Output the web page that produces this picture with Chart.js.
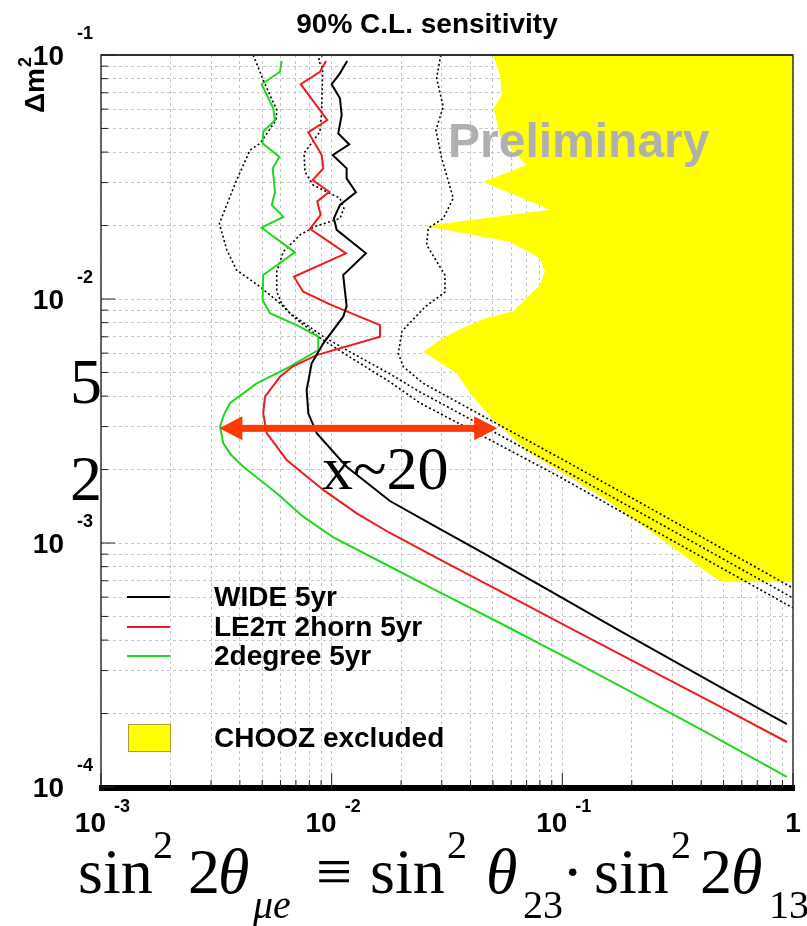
<!DOCTYPE html>
<html>
<head>
<meta charset="utf-8">
<script src="https://cdn.jsdelivr.net/npm/chart.js@4.4.0/dist/chart.umd.min.js"></script>
<style>
  html, body { margin: 0; padding: 0; background: #fff; }
  #wrap { position: relative; width: 807px; height: 926px; overflow: hidden; }
  #chart { display: block; }
  #formula span {
    position: absolute; white-space: nowrap; color: #000;
    font-family: 'Liberation Serif', 'Times New Roman', serif;
  }
  #formula .m { font-size: 64px; line-height: 64px; top: 840px; }
  #formula .sp { font-size: 40px; line-height: 40px; top: 825px; }
  #formula .sb { font-size: 40px; line-height: 40px; top: 885px; }
</style>
</head>
<body>
<div id="wrap">
  <canvas id="chart" width="807" height="926"></canvas>
  <div id="formula">
    <span class="m" style="left:78px">sin</span>
    <span class="sp" style="left:153px">2</span>
    <span class="m" style="left:188px">2</span>
    <span class="m" style="left:218px"><i>θ</i></span>
    <span class="sb" style="left:253px"><i>μe</i></span>
    <span class="m" style="left:316px">≡</span>
    <span class="m" style="left:370px">sin</span>
    <span class="sp" style="left:447px">2</span>
    <span class="m" style="left:486px"><i>θ</i></span>
    <span class="sb" style="left:523px">23</span>
    <span class="m" style="left:562px">·</span>
    <span class="m" style="left:594px">sin</span>
    <span class="sp" style="left:671px">2</span>
    <span class="m" style="left:700px">2</span>
    <span class="m" style="left:731px"><i>θ</i></span>
    <span class="sb" style="left:769px">13</span>
  </div>
</div>
<script>
// axis ranges
const xMin = 1e-3, xMax = 1;
const yMin = 1e-4, yMax = 1e-1;

// tick labels (10^exp)
const xLabelValues = [0.001, 0.01, 0.1];
const xLabelExp = ['-3', '-2', '-1'];
const yLabelValues = [0.1, 0.01, 0.001, 0.0001];
const yLabelExp = ['-1', '-2', '-3', '-4'];

// WIDE 5yr (black)
const wideX = [0.01168, 0.01086, 0.0100, 0.01086, 0.01105, 0.01068, 0.01192, 0.0101, 0.01161, 0.01161, 0.01274, 0.01086, 0.01023, 0.01051, 0.01408, 0.01122, 0.01161, 0.01122, 0.0092, 0.00819, 0.00779, 0.00792, 0.00861, 0.01161, 0.0179, 0.02749, 0.04528, 0.08837, 0.1724, 0.3332, 0.549, 0.941];
const wideY = [0.0945, 0.0841, 0.0759, 0.0665, 0.0568, 0.0477, 0.043, 0.0389, 0.0343, 0.0312, 0.0274, 0.0243, 0.0214, 0.0192, 0.01539, 0.01254, 0.00935, 0.00846, 0.00658, 0.00545, 0.00424, 0.0034, 0.00282, 0.002055, 0.001486, 0.001185, 0.00091, 0.000636, 0.000444, 0.000313, 0.0002405, 0.0001812];

// LE2pi 2horn 5yr (red)
const le2piX = [0.00945, 0.0089, 0.00734, 0.00846, 0.00957, 0.00792, 0.00905, 0.0092, 0.00827, 0.00976, 0.00866, 0.00896, 0.00805, 0.01153, 0.00686, 0.00753, 0.00983, 0.0162, 0.0162, 0.00861, 0.0068, 0.00597, 0.00514, 0.00505, 0.00523, 0.00638, 0.0092, 0.01284, 0.0179, 0.03257, 0.0613, 0.1229, 0.2397, 0.4679, 0.941];
const le2piY = [0.0945, 0.0854, 0.0759, 0.0634, 0.0541, 0.0482, 0.0389, 0.0343, 0.0307, 0.0275, 0.0251, 0.0221, 0.0194, 0.01539, 0.01234, 0.01071, 0.00951, 0.00782, 0.00701, 0.00589, 0.0053, 0.0048, 0.00398, 0.0034, 0.00282, 0.00219, 0.00165, 0.001323, 0.001099, 0.000813, 0.000595, 0.00042, 0.000302, 0.000217, 0.0001529];

// 2degree 5yr (green)
const twoDegX = [0.00607, 0.00597, 0.00497, 0.00558, 0.00568, 0.00505, 0.00502, 0.00593, 0.00555, 0.00568, 0.0055, 0.00617, 0.00497, 0.00693, 0.00505, 0.00502, 0.0054, 0.00705, 0.00875, 0.00875, 0.0066, 0.00473, 0.00362, 0.00341, 0.00328, 0.00339, 0.00366, 0.00414, 0.00578, 0.00753, 0.01013, 0.01669, 0.02749, 0.05364, 0.1047, 0.2023, 0.3949, 0.941];
const twoDegY = [0.0945, 0.0854, 0.0759, 0.0605, 0.0541, 0.0485, 0.0434, 0.0383, 0.0343, 0.0275, 0.0243, 0.0217, 0.0196, 0.01553, 0.01254, 0.00991, 0.00874, 0.00782, 0.00701, 0.00618, 0.00528, 0.00451, 0.00374, 0.00335, 0.0030, 0.00256, 0.0023, 0.002055, 0.0016, 0.001282, 0.001058, 0.000828, 0.000648, 0.00047, 0.000338, 0.000243, 0.0001729, 0.0001099];

// dotted curves
const dot1X = [0.00457, 0.00505, 0.00578, 0.00574, 0.00489, 0.00443, 0.00387, 0.00326, 0.00351, 0.00387, 0.00489, 0.00597, 0.00682, 0.0089, 0.012, 0.0179, 0.02414, 0.04698, 0.09763, 0.2397, 0.999];
const dot1Y = [0.1, 0.079, 0.0595, 0.0541, 0.0434, 0.0408, 0.0307, 0.0204, 0.01588, 0.01315, 0.01123, 0.0096, 0.00846, 0.00692, 0.00578, 0.00457, 0.00375, 0.00269, 0.001864, 0.001152, 0.000542];
const dot2X = [0.00914, 0.00875, 0.00914, 0.00905, 0.0089, 0.00759, 0.00766, 0.00832, 0.01086, 0.0113, 0.01086, 0.00846, 0.00729, 0.00617, 0.00578, 0.00578, 0.00607, 0.0066, 0.0092, 0.012, 0.0179, 0.02414, 0.04698, 0.09763, 0.2397, 0.999];
const dot2Y = [0.1, 0.0954, 0.0882, 0.0586, 0.0485, 0.0396, 0.0332, 0.0293, 0.0259, 0.0235, 0.0214, 0.0198, 0.0183, 0.01563, 0.01294, 0.01071, 0.0096, 0.00874, 0.00701, 0.00607, 0.00493, 0.00416, 0.00296, 0.00203, 0.001266, 0.000595];
const dot3X = [0.0297, 0.02852, 0.03046, 0.02832, 0.02999, 0.03366, 0.03046, 0.02622, 0.02581, 0.03098, 0.03098, 0.02539, 0.02019, 0.01945, 0.02044, 0.02495, 0.04698, 0.09763, 0.2397, 0.999];
const dot3Y = [0.1, 0.0803, 0.0614, 0.0493, 0.0377, 0.0259, 0.0214, 0.0195, 0.01665, 0.01254, 0.01068, 0.00927, 0.00739, 0.00599, 0.00528, 0.00451, 0.00325, 0.00223, 0.00139, 0.000654];

// CHOOZ excluded region outline
const choozX = [0.0502, 0.0536, 0.0546, 0.0505, 0.0536, 0.0613, 0.07, 0.0454, 0.0884, 0.0254, 0.0593, 0.08, 0.0841, 0.08, 0.0613, 0.047, 0.036, 0.0295, 0.02495, 0.0348, 0.0398, 0.0502, 0.0724, 0.1009, 0.1556, 0.2477, 0.451, 0.498, 1, 1];
const choozY = [0.1, 0.0828, 0.0686, 0.0605, 0.047, 0.0401, 0.0354, 0.0302, 0.0232, 0.0199, 0.01717, 0.01468, 0.01294, 0.01141, 0.00893, 0.00836, 0.00753, 0.00679, 0.00608, 0.00496, 0.00411, 0.00319, 0.00233, 0.00193, 0.0015, 0.001096, 0.000728, 0.000694, 0.000694, 0.1];

// red arrow annotation (data coords)
const arrowX = [0.00326, 0.0522];
const arrowY = 0.00295;

function pts(xs, ys) {
    return xs.map((v, i) => ({ x: v, y: ys[i] }));
}

function logTicks(lo, hi) {
    const t = [];
    for (let e = lo; e < hi; e++) {
        for (let k = 1; k < 10; k++) t.push({ value: k * Math.pow(10, e) });
    }
    t.push({ value: Math.pow(10, hi) });
    return t;
}

function isDecade(v) {
    const l = Math.log10(v);
    return Math.abs(l - Math.round(l)) < 1e-6;
}

const SANS = '"Liberation Sans", Arial, sans-serif';
const SERIF = '"Liberation Serif", "Times New Roman", serif';

const decor = {
    id: 'decor',
    afterDatasetsDraw(chart) {
        const { ctx, chartArea: a, scales } = chart;
        const xs = scales.x, ys = scales.y;
        ctx.save();

        // watermark
        ctx.font = 'bold 48px ' + SANS;
        ctx.fillStyle = '#b0b0b0';
        ctx.textBaseline = 'alphabetic';
        ctx.fillText('Preliminary', 448, 157);

        // frame
        ctx.strokeStyle = '#333';
        ctx.lineWidth = 1.5;
        ctx.strokeRect(a.left, a.top, a.right - a.left, a.bottom - a.top);
        ctx.lineWidth = 2;
        ctx.beginPath();
        ctx.moveTo(a.left, a.top);
        ctx.lineTo(a.right, a.top);
        ctx.stroke();
        ctx.fillStyle = '#000';
        ctx.fillRect(a.left - 2, a.bottom - 2, a.right - a.left + 4, 6);

        // tick marks
        ctx.strokeStyle = '#222';
        ctx.lineWidth = 1;
        xs.ticks.forEach(t => {
            const px = xs.getPixelForValue(t.value);
            ctx.beginPath();
            ctx.moveTo(px, a.bottom);
            ctx.lineTo(px, a.bottom - (isDecade(t.value) ? 14 : 7));
            ctx.stroke();
        });
        ys.ticks.forEach(t => {
            const py = ys.getPixelForValue(t.value);
            ctx.beginPath();
            ctx.moveTo(a.left, py);
            ctx.lineTo(a.left + (isDecade(t.value) ? 14 : 7), py);
            ctx.stroke();
        });

        // axis labels
        ctx.fillStyle = '#000';
        yLabelValues.forEach((v, i) => {
            const py = ys.getPixelForValue(v);
            ctx.font = 'bold 28px ' + SANS;
            ctx.textAlign = 'right';
            ctx.fillText('10', 64, py + 10);
            ctx.font = 'bold 18px ' + SANS;
            ctx.textAlign = 'left';
            ctx.fillText(yLabelExp[i], 77, py - 16);
        });
        xLabelValues.forEach((v, i) => {
            const px = xs.getPixelForValue(v);
            ctx.font = 'bold 28px ' + SANS;
            ctx.textAlign = 'right';
            ctx.fillText('10', px + 5, 832);
            ctx.font = 'bold 18px ' + SANS;
            ctx.textAlign = 'left';
            ctx.fillText(xLabelExp[i], px + 13, 812);
        });
        ctx.font = 'bold 28px ' + SANS;
        ctx.textAlign = 'center';
        ctx.fillText('1', xs.getPixelForValue(xMax), 832);

        // title
        ctx.fillText('90% C.L. sensitivity', 427, 33);

        // y axis title
        ctx.save();
        ctx.translate(44, 113);
        ctx.rotate(-Math.PI / 2);
        ctx.textAlign = 'left';
        ctx.font = 'bold 28px ' + SANS;
        ctx.fillText('Δm', 0, 0);
        const w = ctx.measureText('Δm').width;
        ctx.font = 'bold 18px ' + SANS;
        ctx.fillText('2', w + 1, -13);
        ctx.restore();

        // legend
        const rows = [597, 627, 656];
        ctx.font = 'bold 28px ' + SANS;
        ctx.textAlign = 'left';
        ctx.textBaseline = 'middle';
        chart.data.datasets.slice(0, 3).forEach((ds, i) => {
            ctx.strokeStyle = ds.borderColor;
            ctx.lineWidth = 2;
            ctx.beginPath();
            ctx.moveTo(127, rows[i]);
            ctx.lineTo(170, rows[i]);
            ctx.stroke();
            ctx.fillStyle = '#000';
            ctx.fillText(ds.label, 214, rows[i] + 1);
        });
        const chooz = chart.data.datasets[chart.data.datasets.length - 1];
        ctx.fillStyle = chooz.backgroundColor;
        ctx.fillRect(128, 724, 42, 27);
        ctx.strokeStyle = '#a8a030';
        ctx.lineWidth = 1;
        ctx.strokeRect(128.5, 724.5, 42, 27);
        ctx.fillStyle = '#000';
        ctx.fillText(chooz.label, 214, 739);

        // arrow
        const ax0 = xs.getPixelForValue(arrowX[0]);
        const ax1 = xs.getPixelForValue(arrowX[1]);
        const ay = ys.getPixelForValue(arrowY);
        ctx.fillStyle = '#ff3a00';
        ctx.fillRect(ax0 + 20, ay - 3.5, ax1 - ax0 - 40, 7);
        ctx.beginPath();
        ctx.moveTo(ax0, ay);
        ctx.lineTo(ax0 + 23, ay - 12);
        ctx.lineTo(ax0 + 23, ay + 12);
        ctx.closePath();
        ctx.fill();
        ctx.beginPath();
        ctx.moveTo(ax1, ay);
        ctx.lineTo(ax1 - 23, ay - 12);
        ctx.lineTo(ax1 - 23, ay + 12);
        ctx.closePath();
        ctx.fill();

        // hand-written annotations
        ctx.fillStyle = '#000';
        ctx.textBaseline = 'alphabetic';
        ctx.textAlign = 'left';
        ctx.font = '62px ' + SERIF;
        ctx.fillText('x~20', 322, 489);
        ctx.font = '64px ' + SERIF;
        ctx.fillText('5', 70, 403);
        ctx.fillText('2', 70, 500);

        ctx.restore();
    }
};

const lineDs = (label, xs, ys, color, dash) => ({
    label,
    data: pts(xs, ys),
    showLine: true,
    borderColor: color,
    borderWidth: dash ? 1.6 : 2,
    borderDash: dash || [],
    pointRadius: 0,
    tension: 0,
    fill: false
});

new Chart(document.getElementById('chart'), {
    type: 'scatter',
    data: {
        datasets: [
            lineDs('WIDE 5yr', wideX, wideY, '#000000'),
            lineDs('LE2π 2horn 5yr', le2piX, le2piY, '#ee1c1c'),
            lineDs('2degree 5yr', twoDegX, twoDegY, '#1ed81e'),
            lineDs('dotted 1', dot1X, dot1Y, '#000000', [2, 2.5]),
            lineDs('dotted 2', dot2X, dot2Y, '#000000', [2, 2.5]),
            lineDs('dotted 3', dot3X, dot3Y, '#000000', [2, 2.5]),
            {
                label: 'CHOOZ excluded',
                data: pts(choozX, choozY),
                showLine: true,
                borderWidth: 0,
                borderColor: 'rgba(0,0,0,0)',
                backgroundColor: '#ffff00',
                pointRadius: 0,
                tension: 0,
                fill: 'shape'
            }
        ]
    },
    options: {
        responsive: false,
        animation: false,
        devicePixelRatio: 1,
        events: [],
        layout: { padding: { left: 101, right: 14, top: 55, bottom: 139 } },
        plugins: {
            legend: { display: false },
            title: { display: false },
            tooltip: { enabled: false }
        },
        scales: {
            x: {
                type: 'logarithmic',
                min: xMin,
                max: xMax,
                afterBuildTicks: s => { s.ticks = logTicks(-3, 0); },
                ticks: { display: false },
                grid: { color: '#c6c6c6', lineWidth: 1, drawTicks: false },
                border: { display: false, dash: [3, 3] }
            },
            y: {
                type: 'logarithmic',
                min: yMin,
                max: yMax,
                afterBuildTicks: s => { s.ticks = logTicks(-4, -1); },
                ticks: { display: false },
                grid: { color: '#c6c6c6', lineWidth: 1, drawTicks: false },
                border: { display: false, dash: [3, 3] }
            }
        }
    },
    plugins: [decor]
});
</script>
</body>
</html>
